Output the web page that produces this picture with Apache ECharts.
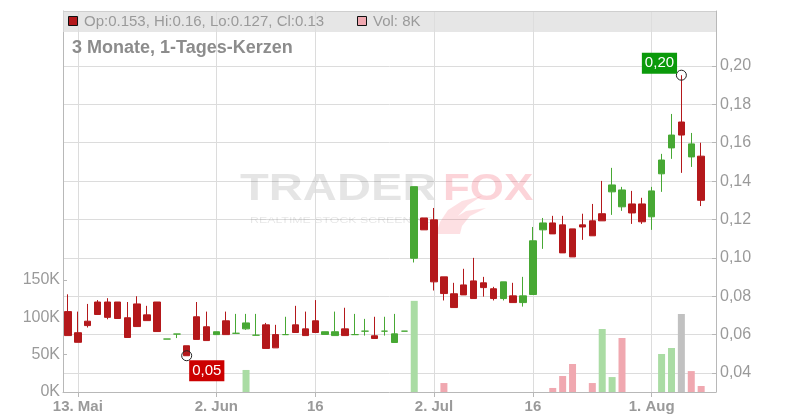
<!DOCTYPE html>
<html><head><meta charset="utf-8">
<script src="https://cdn.jsdelivr.net/npm/echarts@6/dist/echarts.min.js"></script>
<style>html,body{margin:0;padding:0;background:#fff}#c{width:800px;height:420px}</style>
</head><body><div id="c"></div>
<script>
// ---- data ----
const dates = [
 '2025-05-12','2025-05-13','2025-05-14','2025-05-15','2025-05-16','2025-05-19','2025-05-20','2025-05-21','2025-05-22','2025-05-23',
 '2025-05-26','2025-05-27','2025-05-28','2025-05-29','2025-05-30',
 '2025-06-02','2025-06-03','2025-06-04','2025-06-05','2025-06-06','2025-06-09','2025-06-10','2025-06-11','2025-06-12','2025-06-13',
 '2025-06-16','2025-06-17','2025-06-18','2025-06-19','2025-06-20','2025-06-23','2025-06-24','2025-06-25','2025-06-26','2025-06-27','2025-06-30',
 '2025-07-01','2025-07-02','2025-07-03','2025-07-04','2025-07-07','2025-07-08','2025-07-09','2025-07-10','2025-07-11',
 '2025-07-14','2025-07-15','2025-07-16','2025-07-17','2025-07-18','2025-07-21','2025-07-22','2025-07-23','2025-07-24','2025-07-25',
 '2025-07-28','2025-07-29','2025-07-30','2025-07-31',
 '2025-08-01','2025-08-04','2025-08-05','2025-08-06','2025-08-07','2025-08-08'
];
const opens = [
 0.072,0.061,0.067,0.077,0.077,0.077,0.0688,0.076,0.0703,0.077,
 0.0577,0.0603,0.0542,0.0693,0.0641,
 0.060,0.0672,0.0607,0.063,0.0597,0.0651,0.060,0.060,0.0651,0.063,
 0.0672,0.0601,0.0595,0.063,0.060,0.0618,0.0594,0.0618,0.0559,0.0618,0.0998,
 0.1208,0.1198,0.0901,0.0813,0.0859,0.088,0.087,0.0839,0.0788,
 0.0802,0.0767,0.0809,0.1146,0.1182,0.1172,0.1151,0.1172,0.1193,0.123,
 0.1344,0.1266,0.1281,0.1281,
 0.1214,0.1438,0.1573,0.1708,0.1526,0.153
];
const closes = [
 0.0595,0.056,0.0647,0.0705,0.069,0.0684,0.0585,0.0642,0.0673,0.0616,
 0.0577,0.0603,0.049,0.0575,0.0569,
 0.0615,0.060,0.0607,0.0661,0.0597,0.0528,0.0531,0.060,0.0611,0.0595,
 0.0611,0.0615,0.0615,0.0595,0.060,0.0618,0.058,0.0618,0.0604,0.0618,0.1371,
 0.1146,0.0875,0.0814,0.0741,0.0807,0.0788,0.0845,0.0788,0.0875,
 0.0767,0.0802,0.1089,0.1182,0.1125,0.1026,0.1005,0.1161,0.1115,0.1193,
 0.138,0.1354,0.1234,0.1188,
 0.1349,0.151,0.164,0.164,0.1594,0.13
];
const lows = [
 0.0595,0.056,0.0637,0.0705,0.068,0.0684,0.0585,0.0642,0.0673,0.0616,
 0.0577,0.0582,0.049,0.0575,0.0569,
 0.060,0.060,0.0607,0.0625,0.0597,0.0528,0.0531,0.060,0.0611,0.0595,
 0.0611,0.0601,0.0595,0.0595,0.060,0.0595,0.058,0.0595,0.0559,0.0618,0.0976,
 0.1146,0.083,0.0778,0.0741,0.0807,0.0788,0.0798,0.0778,0.0778,
 0.0767,0.0746,0.0809,0.1047,0.1125,0.1026,0.1005,0.1094,0.1115,0.1193,
 0.1224,0.1245,0.1177,0.1177,
 0.1146,0.1344,0.1516,0.1443,0.1474,0.127
];
const highs = [
 0.081,0.072,0.076,0.078,0.079,0.077,0.077,0.080,0.075,0.077,
 0.0577,0.0603,0.0542,0.077,0.072,
 0.0615,0.072,0.0708,0.0708,0.0708,0.0661,0.0651,0.0693,0.075,0.072,
 0.078,0.0615,0.072,0.074,0.0708,0.0682,0.0693,0.0693,0.0708,0.0618,0.1371,
 0.1208,0.126,0.0901,0.087,0.0943,0.100,0.0901,0.0849,0.0875,
 0.087,0.0901,0.1161,0.1208,0.1219,0.1219,0.1151,0.123,0.1281,0.1401,
 0.1469,0.137,0.1349,0.1313,
 0.137,0.1542,0.175,0.1952,0.1651,0.16
];
const volumes = [
 0,0,0,0,0,0,0,0,0,0,
 0,0,0,0,0,
 0,0,0,29500,0,0,0,0,0,0,
 0,0,0,0,0,0,0,0,0,0,122000,
 0,0,12000,0,0,0,0,0,0,
 0,0,0,0,5400,21400,37500,0,12000,84300,
 20000,72300,0,0,
 0,50900,58900,104400,28000,8000
];
const tickDates = ['2025-05-13','2025-06-02','2025-06-16','2025-07-02','2025-07-16','2025-08-01'];
const tickLabels = ['13. Mai','2. Jun','16','2. Jul','16','1. Aug'];
const priceTicks = [0.04,0.06,0.08,0.10,0.12,0.14,0.16,0.18,0.20];
const volumeTicks = [0,50000,100000,150000];

// ---- styles ----
const FONT = '"Liberation Sans", Arial, sans-serif';
const UP = '#47a834', DOWN = '#b4181b';
const VUP = '#aadca4', VDOWN = '#f0a8b0', VFLAT = '#c1c1c1';
const categories = dates.concat(['']);
const n = dates.length;

const candleData = dates.map((d, i) => {
  const col = closes[i] >= opens[i] ? UP : DOWN;
  return { value: [opens[i], closes[i], lows[i], highs[i]],
    itemStyle: { color: col, color0: col, borderColor: col, borderColor0: col } };
});
const volData = volumes.map((v, i) => {
  let col = VFLAT;
  if (i > 0) col = closes[i] > closes[i-1] ? VUP : (closes[i] < closes[i-1] ? VDOWN : VFLAT);
  return { value: v, itemStyle: { color: col } };
});
const isTick = (i, v) => tickDates.indexOf(v) >= 0;
const headerText = 'Op:' + opens[n-1] + ', Hi:' + highs[n-1] + ', Lo:' + lows[n-1] + ', Cl:' + closes[n-1];
const volText = 'Vol: ' + (volumes[n-1] / 1000) + 'K';
const fmtPrice = v => v.toFixed(2).replace('.', ',');

const chart = echarts.init(document.getElementById('c'), null, { renderer: 'canvas' });
chart.setOption({
  animation: false,
  backgroundColor: '#fff',
  grid: { left: 63, right: 84, top: 11, bottom: 28 },
  xAxis: {
    type: 'category', data: categories, boundaryGap: true,
    axisLine: { lineStyle: { color: '#b8b8b8' } },
    axisTick: { show: true, alignWithLabel: true, interval: isTick, length: 5, lineStyle: { color: '#b8b8b8' } },
    axisLabel: { interval: isTick, formatter: v => tickLabels[tickDates.indexOf(v)] || '',
      color: '#9a9a9a', fontWeight: 'bold', fontSize: 15, fontFamily: FONT, margin: 7 },
    splitLine: { show: false }
  },
  yAxis: [
    { type: 'value', position: 'right', min: 0.0301, max: 0.22865,
      axisLine: { show: true, lineStyle: { color: '#b8b8b8' } },
      axisTick: { show: true, inside: true, length: 4, customValues: priceTicks, lineStyle: { color: '#b8b8b8' } },
      axisLabel: { customValues: priceTicks, formatter: fmtPrice, color: '#9a9a9a', fontSize: 16, fontFamily: FONT, margin: 4, padding: [4, 0, 0, 0] },
      splitLine: { show: true, lineStyle: { color: '#dcdcdc' } } },
    { type: 'value', position: 'left', min: 0, max: 510000,
      axisLine: { show: true, lineStyle: { color: '#b8b8b8' } },
      axisTick: { show: true, inside: true, length: 4, customValues: volumeTicks, lineStyle: { color: '#b8b8b8' } },
      axisLabel: { customValues: volumeTicks, formatter: v => (v / 1000) + 'K', color: '#9a9a9a', fontSize: 16, fontFamily: FONT, margin: 3, padding: [4, 0, 0, 0] },
      splitLine: { show: false } }
  ],
  graphic: [
    { type: 'text', x: 240, y: 190, scaleX: 1.31, z: 1, silent: true,
      style: { text: 'TRADER', x: 0, y: 0, font: 'bold 36px ' + FONT, fill: 'rgba(0,0,0,0.1)', verticalAlign: 'middle' } },
    { type: 'text', x: 443, y: 190, scaleX: 1.22, z: 1, silent: true,
      style: { text: 'FOX', x: 0, y: 0, font: 'bold 36px ' + FONT, fill: 'rgba(240,60,80,0.22)', verticalAlign: 'middle' } },
    { type: 'polygon', z: 1, silent: true,
      shape: { points: [[436,234],[440,222],[448,210],[462,201],[482,196],[468,205],[458,216],[466,211],[486,208],[470,216],[462,226],[460,234]] },
      style: { fill: 'rgba(240,60,80,0.16)' } },
    { type: 'text', x: 250, y: 220, scaleX: 1.3, z: 1, silent: true,
      style: { text: 'REALTIME STOCK SCREENING', x: 0, y: 0, font: '9.5px ' + FONT, fill: 'rgba(0,0,0,0.1)', verticalAlign: 'middle' } },
    { type: 'rect', z: 10, silent: true, shape: { x: 63, y: 11, width: 653, height: 21 },
      style: { fill: 'rgba(222,222,222,0.75)' } },
    { type: 'line', z: 10, silent: true, shape: { x1: 63, y1: 11.5, x2: 716, y2: 11.5 }, style: { stroke: '#cfcfcf', lineWidth: 1 } },
    { type: 'rect', z: 11, silent: true, shape: { x: 68.5, y: 16.5, width: 9, height: 9 },
      style: { fill: DOWN, stroke: '#111', lineWidth: 1 } },
    { type: 'text', z: 11, silent: true, x: 84, y: 22,
      style: { text: headerText, font: '15px ' + FONT, fill: '#9a9a9a', verticalAlign: 'middle' } },
    { type: 'rect', z: 11, silent: true, shape: { x: 357.5, y: 16.5, width: 9, height: 9 },
      style: { fill: VDOWN, stroke: '#111', lineWidth: 1 } },
    { type: 'text', z: 11, silent: true, x: 373, y: 22,
      style: { text: volText, font: '15px ' + FONT, fill: '#9a9a9a', verticalAlign: 'middle' } },
    { type: 'text', z: 11, silent: true, x: 72, y: 48,
      style: { text: '3 Monate, 1-Tages-Kerzen', font: 'bold 18px ' + FONT, fill: '#8c8c8c', verticalAlign: 'middle' } }
  ],
  series: [
    { type: 'bar', xAxisIndex: 0, yAxisIndex: 1, data: volData, barWidth: 7, z: 2, silent: true,
      markLine: { silent: true, z: 1, symbol: 'none', label: { show: false },
        lineStyle: { color: '#dcdcdc', type: 'solid', width: 1 },
        data: tickDates.map(d => ({ xAxis: d })) } },
    { type: 'candlestick', xAxisIndex: 0, yAxisIndex: 0, data: candleData, barWidth: 7, z: 3,
      itemStyle: { borderWidth: 1 },
      markPoint: {
        symbol: 'circle', symbolSize: 10, z: 6,
        itemStyle: { color: 'rgba(0,0,0,0)', borderColor: '#222', borderWidth: 1 },
        data: [
          { type: 'max', valueDim: 'highest',
            label: { show: true, position: [-34, -17], formatter: p => fmtPrice(p.value),
              color: '#fff', fontSize: 15, fontFamily: FONT, lineHeight: 15, backgroundColor: '#0b9a0b', padding: [3, 3, 3, 3] } },
          { type: 'min', valueDim: 'lowest',
            label: { show: true, position: [8, 10], formatter: p => fmtPrice(p.value),
              color: '#fff', fontSize: 15, fontFamily: FONT, lineHeight: 15, backgroundColor: '#cc0000', padding: [3, 3, 3, 3] } }
        ]
      } }
  ]
});
</script></body></html>
